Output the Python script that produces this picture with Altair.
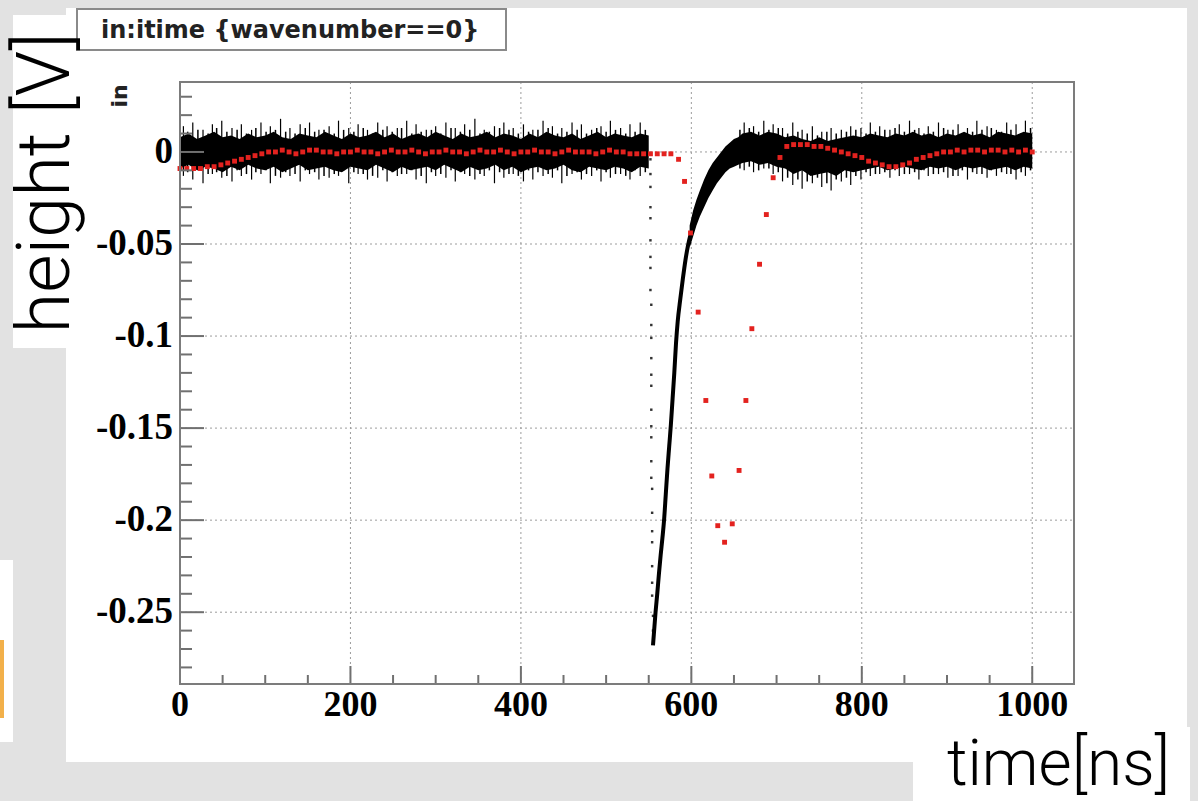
import altair as alt
import pandas as pd

# ---------------- data ----------------
# black waveform: dense noise band (upper / lower edge of the solid core)
band1_t = [0, 10, 20, 30, 40, 50, 60, 70, 80, 90, 100, 110, 120, 130, 140, 150, 160, 170, 180, 190,
           200, 210, 220, 230, 240, 250, 260, 270, 280, 290, 300, 310, 320, 330, 340, 350, 360, 370, 380, 390,
           400, 410, 420, 430, 440, 450, 460, 470, 480, 490, 500, 510, 520, 530, 540, 550]
band1_hi = [0.008, 0.010, 0.007, 0.009, 0.011, 0.008, 0.009, 0.007, 0.010, 0.008,
            0.009, 0.011, 0.008, 0.007, 0.010, 0.009, 0.008, 0.011, 0.009, 0.007,
            0.010, 0.008, 0.009, 0.011, 0.008, 0.010, 0.007, 0.009, 0.010, 0.008,
            0.011, 0.009, 0.007, 0.010, 0.008, 0.009, 0.011, 0.008, 0.010, 0.009,
            0.007, 0.010, 0.008, 0.011, 0.009, 0.008, 0.010, 0.007, 0.009, 0.011,
            0.008, 0.010, 0.009, 0.008, 0.010, 0.009]
band1_lo = [-0.009, -0.007, -0.010, -0.008, -0.009, -0.011, -0.008, -0.010, -0.007, -0.009,
            -0.010, -0.008, -0.011, -0.009, -0.007, -0.010, -0.009, -0.008, -0.010, -0.011,
            -0.008, -0.009, -0.010, -0.007, -0.009, -0.011, -0.008, -0.010, -0.009, -0.008,
            -0.010, -0.007, -0.009, -0.011, -0.008, -0.010, -0.009, -0.007, -0.010, -0.008,
            -0.011, -0.009, -0.008, -0.010, -0.009, -0.007, -0.010, -0.011, -0.008, -0.009,
            -0.010, -0.008, -0.009, -0.011, -0.008, -0.009]

band2_t = [598, 602, 606, 610, 615, 620, 625, 630, 635, 640, 645, 650, 655, 660, 670, 680, 690, 700,
           710, 720, 730, 740, 750, 760, 770, 780, 790, 800, 810, 820, 830, 840, 850, 860, 870, 880,
           890, 900, 910, 920, 930, 940, 950, 960, 970, 980, 990, 1000]
band2_hi = [-0.040, -0.032, -0.026, -0.021, -0.015, -0.010, -0.006, -0.003, 0.000, 0.003, 0.005, 0.007,
            0.008, 0.010, 0.011, 0.009, 0.011, 0.010, 0.008, 0.009, 0.007, 0.006, 0.008, 0.006, 0.007,
            0.008, 0.009, 0.008, 0.010, 0.009, 0.008, 0.010, 0.009, 0.011, 0.009, 0.010, 0.008, 0.010,
            0.009, 0.011, 0.009, 0.010, 0.008, 0.011, 0.010, 0.009, 0.011, 0.010]
band2_lo = [-0.052, -0.046, -0.040, -0.035, -0.030, -0.025, -0.021, -0.017, -0.014, -0.011, -0.009,
            -0.008, -0.007, -0.006, -0.005, -0.007, -0.006, -0.008, -0.009, -0.012, -0.010, -0.013,
            -0.012, -0.011, -0.013, -0.010, -0.011, -0.010, -0.009, -0.008, -0.010, -0.009, -0.008,
            -0.009, -0.010, -0.008, -0.009, -0.008, -0.010, -0.008, -0.009, -0.008, -0.010, -0.009,
            -0.008, -0.010, -0.008, -0.009]

# thin vertical error-bar spikes sticking out of the band
spike_t = [4, 15, 27, 38, 49, 61, 72, 84, 95, 106, 118, 129, 141, 152, 163, 175, 186, 198, 209, 220,
           232, 243, 255, 266, 277, 289, 300, 312, 323, 334, 346, 357, 369, 380, 391, 403, 414, 426,
           437, 448, 460, 471, 483, 494, 505, 517, 528, 540,
           662, 673, 685, 696, 707, 719, 730, 742, 753, 764, 776, 787, 799, 810, 821, 833, 844, 856,
           867, 878, 890, 901, 913, 924, 935, 947, 958, 970, 981, 992]
spike_hi = [0.014, 0.016, 0.012, 0.015, 0.017, 0.013, 0.015, 0.012, 0.016, 0.014, 0.018, 0.013,
            0.015, 0.016, 0.012, 0.014, 0.017, 0.013, 0.015, 0.012, 0.016, 0.014, 0.013, 0.017,
            0.015, 0.012, 0.014, 0.016, 0.013, 0.015, 0.018, 0.012, 0.014, 0.016, 0.013, 0.015,
            0.012, 0.017, 0.014, 0.013, 0.016, 0.015, 0.012, 0.014, 0.017, 0.013, 0.015, 0.016,
            0.016, 0.014, 0.017, 0.015, 0.013, 0.016, 0.012, 0.014, 0.011, 0.013, 0.012, 0.014,
            0.013, 0.016, 0.014, 0.012, 0.015, 0.017, 0.013, 0.014, 0.016, 0.012, 0.015, 0.013,
            0.017, 0.014, 0.012, 0.016, 0.015, 0.017]
spike_lo = [-0.013, -0.015, -0.017, -0.012, -0.014, -0.016, -0.013, -0.015, -0.012, -0.017, -0.014,
            -0.013, -0.016, -0.012, -0.015, -0.014, -0.013, -0.017, -0.012, -0.015, -0.014, -0.016,
            -0.013, -0.012, -0.015, -0.017, -0.013, -0.014, -0.016, -0.012, -0.015, -0.013, -0.017,
            -0.014, -0.012, -0.016, -0.015, -0.013, -0.014, -0.017, -0.012, -0.015, -0.013, -0.016,
            -0.014, -0.012, -0.015, -0.013,
            -0.010, -0.011, -0.009, -0.012, -0.016, -0.018, -0.020, -0.017, -0.019, -0.021, -0.016,
            -0.018, -0.015, -0.013, -0.012, -0.014, -0.013, -0.012, -0.015, -0.013, -0.012, -0.014,
            -0.013, -0.015, -0.012, -0.014, -0.013, -0.012, -0.015, -0.013]

# shorter spikes in between (48 before the pulse, 31 after it)
spike2_t = [9, 21, 33, 43, 55, 67, 78, 89, 101, 112, 124, 135, 147, 158, 169, 181, 192, 204, 215,
            226, 238, 249, 260, 272, 283, 295, 306, 318, 329, 340, 352, 363, 375, 386, 397, 409, 420,
            432, 443, 454, 466, 477, 489, 500, 511, 523, 534, 546,
            657, 668, 679, 691, 702, 713, 725, 736, 748, 759, 770, 782, 793, 805, 816, 827, 839, 850,
            862, 873, 884, 896, 907, 918, 930, 941, 952, 964, 975, 987, 998]
spike2_hi = [0.011, 0.012, 0.010, 0.013, 0.011, 0.012, 0.010, 0.013, 0.011, 0.012, 0.011, 0.010,
             0.013, 0.011, 0.012, 0.010, 0.012, 0.011, 0.013, 0.010, 0.012, 0.011, 0.013, 0.010,
             0.011, 0.012, 0.010, 0.013, 0.011, 0.012, 0.010, 0.011, 0.013, 0.012, 0.010, 0.011,
             0.012, 0.013, 0.010, 0.011, 0.012, 0.010, 0.013, 0.011, 0.012, 0.010, 0.011, 0.012,
             0.012, 0.013, 0.011, 0.012, 0.013, 0.010, 0.011, 0.010, 0.009, 0.011, 0.010, 0.011,
             0.012, 0.010, 0.011, 0.012, 0.013, 0.011, 0.012, 0.010, 0.011, 0.013, 0.012, 0.010,
             0.011, 0.012, 0.013, 0.011, 0.012, 0.010, 0.013]
spike2_lo = [-0.011, -0.010, -0.012, -0.011, -0.013, -0.010, -0.012, -0.011, -0.010, -0.013, -0.011,
             -0.012, -0.010, -0.011, -0.013, -0.012, -0.010, -0.011, -0.012, -0.013, -0.010, -0.011,
             -0.012, -0.010, -0.013, -0.011, -0.012, -0.010, -0.011, -0.013, -0.012, -0.010, -0.011,
             -0.012, -0.013, -0.010, -0.011, -0.012, -0.010, -0.013, -0.011, -0.012, -0.010, -0.011,
             -0.012, -0.013, -0.010, -0.011,
             -0.009, -0.008, -0.010, -0.009, -0.011, -0.014, -0.015, -0.016, -0.014, -0.017, -0.015,
             -0.014, -0.013, -0.011, -0.012, -0.011, -0.010, -0.012, -0.011, -0.010, -0.012, -0.011,
             -0.013, -0.010, -0.011, -0.012, -0.010, -0.011, -0.012, -0.011, -0.010]

# fast rising edge of the pulse
edge_t = [555, 556, 558, 560, 562, 564, 566, 568, 570, 572, 574, 576, 578, 580, 582, 584, 587, 590,
          593, 596, 599]
edge_y = [-0.268, -0.262, -0.250, -0.240, -0.229, -0.219, -0.210, -0.200, -0.186, -0.172, -0.160,
          -0.148, -0.134, -0.120, -0.104, -0.092, -0.080, -0.069, -0.059, -0.051, -0.045]

# sparse samples of the falling edge
drop_t = [552, 552, 552, 552, 552, 552, 552, 552, 552, 553, 553, 553, 553, 553, 553, 553, 553, 553,
          553, 553, 554, 554, 554, 554, 554, 554, 554, 555, 555]
drop_y = [-0.004, -0.012, -0.019, -0.030, -0.036, -0.048, -0.057, -0.063, -0.075, -0.083, -0.094,
          -0.101, -0.112, -0.121, -0.127, -0.140, -0.149, -0.155, -0.168, -0.177, -0.183, -0.196,
          -0.206, -0.212, -0.225, -0.234, -0.241, -0.252, -0.260]

# red points
red_t = [0, 8, 16, 24, 32, 40, 48, 56, 64, 72, 80, 88, 96, 104, 112, 120, 128, 136, 144, 152, 160,
         168, 176, 184, 192, 200, 208, 216, 224, 232, 240, 248, 256, 264, 272, 280, 288, 296, 304,
         312, 320, 328, 336, 344, 352, 360, 368, 376, 384, 392, 400, 408, 416, 424, 432, 440, 448,
         456, 464, 472, 480, 488, 496, 504, 512, 520, 528, 536, 544, 552, 560, 568, 576,
         585, 592, 599, 608, 617, 624, 631, 639, 648, 656, 664, 671, 680, 688, 696, 704,
         712, 720, 728, 736, 744, 752, 760, 768, 776, 784, 792, 800, 808, 816, 824, 832, 840, 848,
         856, 864, 872, 880, 888, 896, 904, 912, 920, 928, 936, 944, 952, 960, 968, 976, 984, 992, 1000]
red_y = [-0.009, -0.009, -0.009, -0.009, -0.008, -0.008, -0.007, -0.006, -0.005, -0.004, -0.003,
         -0.002, -0.001,
         0.000, 0.000, 0.001, 0.000, -0.001, 0.000, 0.001, 0.001, 0.000, 0.000,
         -0.001, 0.000, 0.000, 0.001, 0.000, 0.000, -0.001, 0.000, 0.001, 0.000,
         0.000, 0.001, 0.000, -0.001, 0.000, 0.000, 0.001, 0.000, 0.000, -0.001,
         0.000, 0.001, 0.000, 0.000, 0.001, 0.000, -0.001, 0.000, 0.000, 0.001,
         0.000, 0.000, -0.001, 0.000, 0.001, 0.000, 0.000, 0.000, -0.001, 0.000,
         0.001, 0.000, 0.000, -0.001, -0.001, -0.001, -0.001, -0.001, -0.001, -0.001,
         -0.004, -0.016, -0.044, -0.087, -0.135, -0.176, -0.203, -0.212, -0.202, -0.173, -0.135,
         -0.096, -0.061, -0.034, -0.014, -0.003,
         0.003, 0.004, 0.004, 0.004, 0.003, 0.003, 0.002, 0.001, 0.000, -0.001, -0.002, -0.003,
         -0.005, -0.006, -0.007, -0.008, -0.008, -0.007, -0.006, -0.004, -0.003, -0.002, -0.001,
         0.000, 0.000, 0.001, 0.000, 0.001, 0.001, 0.000, 0.001, 0.001, 0.000, 0.001, 0.000,
         0.001, 0.000]

# axis ticks and labels
x_major = [0, 200, 400, 600, 800, 1000]
x_labels = ["0", "200", "400", "600", "800", "1000"]
x_grid = [200, 400, 600, 800, 1000]
x_minor = [50, 100, 150, 250, 300, 350, 450, 500, 550, 650, 700, 750, 850, 900, 950]
y_major = [0, -0.05, -0.1, -0.15, -0.2, -0.25]
y_labels = ["0", "-0.05", "-0.1", "-0.15", "-0.2", "-0.25"]
y_minor = [0.03, 0.02, 0.01, -0.01, -0.02, -0.03, -0.04, -0.06, -0.07, -0.08, -0.09, -0.11, -0.12,
           -0.13, -0.14, -0.16, -0.17, -0.18, -0.19, -0.21, -0.22, -0.23, -0.24, -0.26, -0.27, -0.28]

title_text = "in:itime {wavenumber==0}"
ylabel_small = "in"
ylabel_big = "height [V]"
xlabel_big = "time[ns]"

# ---------------- chart ----------------
W, H = 894, 602
xs = alt.Scale(domain=[0, 1049], nice=False, zero=False)
ys = alt.Scale(domain=[-0.289, 0.038], nice=False, zero=False)

one = pd.DataFrame({"a": [0]})
X = lambda f: alt.X(f"{f}:Q", scale=xs, axis=None)
Y = lambda f: alt.Y(f"{f}:Q", scale=ys, axis=None)


def box(x0, x1, y0, y1, fill="white", stroke=None, sw=0):
    kw = dict(fill=fill)
    if stroke:
        kw.update(stroke=stroke, strokeWidth=sw)
    return alt.Chart(one).mark_rect(**kw).encode(
        x=alt.value(x0 - 180), x2=alt.value(x1 - 180), y=alt.value(y0 - 82), y2=alt.value(y1 - 82))


panel = box(66, 1187, 8, 762)
hbox = box(13, 72, 15, 348)
tbox = box(913, 1190, 727, 801)
lstrip = box(0, 13, 560, 742)
orange = box(0, 4, 640, 718, fill="#f2b04a")
titlebox = box(77, 506, 9, 50, fill="white", stroke="#8a8a8a", sw=2)

grid_style = dict(color="#9c9c9c", strokeDash=[2, 3], strokeWidth=1)
grid_x = alt.Chart(pd.DataFrame({"t": x_grid})).mark_rule(**grid_style).encode(
    x=X("t"), y=alt.value(0), y2=alt.value(H))
grid_y = alt.Chart(pd.DataFrame({"v": y_major})).mark_rule(**grid_style).encode(
    y=Y("v"), x=alt.value(0), x2=alt.value(W))

b1 = alt.Chart(pd.DataFrame({"t": band1_t, "hi": band1_hi, "lo": band1_lo})).mark_area(
    color="black").encode(x=X("t"), y=Y("hi"), y2="lo")
b2 = alt.Chart(pd.DataFrame({"t": band2_t, "hi": band2_hi, "lo": band2_lo})).mark_area(
    color="black").encode(x=X("t"), y=Y("hi"), y2="lo")
spikes = alt.Chart(pd.DataFrame({"t": spike_t, "hi": spike_hi, "lo": spike_lo})).mark_rule(
    color="black", strokeWidth=1.2).encode(x=X("t"), y=Y("hi"), y2="lo")
spikes2 = alt.Chart(pd.DataFrame({"t": spike2_t, "hi": spike2_hi, "lo": spike2_lo})).mark_rule(
    color="black", strokeWidth=1.5).encode(x=X("t"), y=Y("hi"), y2="lo")
edge = alt.Chart(pd.DataFrame({"t": edge_t, "y": edge_y})).mark_line(
    color="black", strokeWidth=4, interpolate="monotone").encode(x=X("t"), y=Y("y"))
drop = alt.Chart(pd.DataFrame({"t": drop_t, "y": drop_y})).mark_square(
    color="black", size=6, opacity=0.8).encode(x=X("t"), y=Y("y"))
red = alt.Chart(pd.DataFrame({"t": red_t, "y": red_y})).mark_square(
    color="#e3221f", size=24, opacity=1).encode(x=X("t"), y=Y("y"))

tick_style = dict(color="#707070", strokeWidth=2)
ty_maj = alt.Chart(pd.DataFrame({"v": y_major})).mark_rule(**tick_style).encode(
    y=Y("v"), x=alt.value(0), x2=alt.value(24))
ty_min = alt.Chart(pd.DataFrame({"v": y_minor})).mark_rule(**tick_style).encode(
    y=Y("v"), x=alt.value(0), x2=alt.value(12))
tx_maj = alt.Chart(pd.DataFrame({"t": x_major})).mark_rule(**tick_style).encode(
    x=X("t"), y=alt.value(H), y2=alt.value(H - 18))
tx_min = alt.Chart(pd.DataFrame({"t": x_minor})).mark_rule(**tick_style).encode(
    x=X("t"), y=alt.value(H), y2=alt.value(H - 9))
frame = alt.Chart(one).mark_rect(fillOpacity=0, stroke="#7c7c7c", strokeWidth=2).encode(
    x=alt.value(0), x2=alt.value(W), y=alt.value(0), y2=alt.value(H))

LABEL_FONT = dict(font="Liberation Serif", fontWeight="bold", fontSize=36, color="black")
xlab = alt.Chart(pd.DataFrame({"t": x_major, "s": x_labels})).mark_text(
    align="center", baseline="middle", **LABEL_FONT).encode(
    x=X("t"), y=alt.value(H + 21), text="s:N")
ylab = alt.Chart(pd.DataFrame({"v": y_major, "s": y_labels})).mark_text(
    align="right", baseline="middle", fontSize=37, font="Liberation Serif", fontWeight="bold",
    color="black").encode(y=Y("v"), x=alt.value(-7), text="s:N")

t_title = alt.Chart(one).mark_text(
    text=title_text, font="DejaVu Sans", fontWeight="bold", fontSize=24, align="left",
    baseline="middle", color="#222").encode(x=alt.value(101 - 180), y=alt.value(31 - 82))
t_in = alt.Chart(one).mark_text(
    text=ylabel_small, font="DejaVu Sans", fontWeight="bold", fontSize=22, angle=270,
    align="center", baseline="middle", color="#222").encode(x=alt.value(120 - 180), y=alt.value(96 - 82))
t_h = alt.Chart(one).mark_text(
    text=ylabel_big, font="Roboto", fontWeight=300, fontSize=74, angle=270,
    align="center", baseline="middle", color="black").encode(x=alt.value(47 - 180), y=alt.value(183 - 82))
t_x = alt.Chart(one).mark_text(
    text=xlabel_big, font="Roboto", fontWeight=300, fontSize=64, align="right",
    baseline="alphabetic", color="black").encode(x=alt.value(1170 - 180), y=alt.value(785 - 82))

chart = alt.layer(
    panel, hbox, tbox, lstrip, orange, titlebox,
    grid_x, grid_y,
    b1, b2, spikes, spikes2, edge, drop, red,
    ty_maj, ty_min, tx_maj, tx_min, frame,
    xlab, ylab,
    t_title, t_in, t_h, t_x,
).properties(
    width=W, height=H,
    padding={"left": 180, "top": 82, "right": 124, "bottom": 117},
    autosize=alt.AutoSizeParams(type="none"),
).configure(background="#e2e2e2").configure_view(stroke=None)

chart.save("out.html", embed_options={"renderer": "svg", "actions": False})
